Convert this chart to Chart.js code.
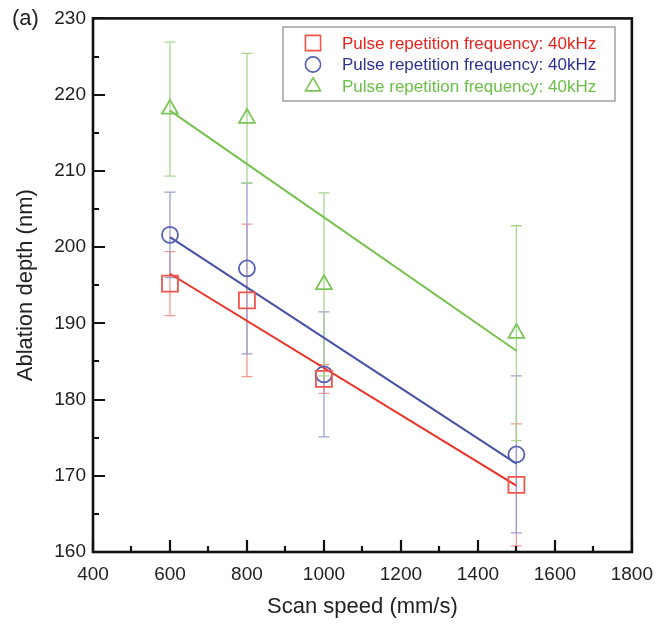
<!DOCTYPE html>
<html>
<head>
<meta charset="utf-8">
<script src="https://cdn.jsdelivr.net/npm/chart.js@4/dist/chart.umd.min.js"></script>
<style>
  html, body { margin: 0; padding: 0; background: #fff; }
  #wrap { width: 664px; height: 624px; position: relative; }
</style>
</head>
<body>
<div id="wrap"><canvas id="c" width="664" height="624"></canvas></div>
<script>
// ---- data ----
const scanSpeed = [600, 800, 1000, 1500];
const seriesLabels = [
  'Pulse repetition frequency: 40kHz',
  'Pulse repetition frequency: 40kHz',
  'Pulse repetition frequency: 40kHz'
];
const redDepth   = [195.2, 193.0, 182.7, 168.8];
const redErr     = [4.2, 10.0, 1.9, 8.0];
const blueDepth  = [201.6, 197.2, 183.3, 172.8];
const blueErr    = [5.6, 11.2, 8.2, 10.3];
const greenDepth = [218.1, 216.9, 195.1, 188.7];
const greenErr   = [8.8, 8.5, 12.0, 14.1];
// fitted line end points
const fitX     = [600, 1500];
const redFit   = [196.5, 168.7];
const blueFit  = [201.3, 171.6];
const greenFit = [217.9, 186.4];
// axes
const xMin = 400, xMax = 1800, xStep = 200;
const yMin = 160, yMax = 230, yStep = 10;

const FONT = '"Liberation Sans", Arial, sans-serif';

const colors = {
  red:   { line: '#ee2f24', mark: '#f0564a', err: '#f39a90', text: '#e8231d' },
  blue:  { line: '#4751a6', mark: '#5561b3', err: '#9aa0d2', text: '#2e3190' },
  green: { line: '#76c04e', mark: '#7cc558', err: '#a6d78e', text: '#6abf47' }
};

function pts(xs, ys) { return xs.map((x, i) => ({ x: x, y: ys[i] })); }

const seriesDefs = [
  { key: 'red',   depth: redDepth,   err: redErr,   fit: redFit,   style: 'rect',     radius: 11.3 },
  { key: 'blue',  depth: blueDepth,  err: blueErr,  fit: blueFit,  style: 'circle',   radius: 8 },
  { key: 'green', depth: greenDepth, err: greenErr, fit: greenFit, style: 'triangle', radius: 9.2 }
];

const datasets = [];
seriesDefs.forEach((s, i) => {
  datasets.push({
    label: seriesLabels[i] + ' fit',
    type: 'line',
    data: pts(fitX, s.fit),
    borderColor: colors[s.key].line,
    borderWidth: 2,
    pointRadius: 0,
    fill: false,
    order: 2
  });
});
seriesDefs.forEach((s, i) => {
  datasets.push({
    label: seriesLabels[i],
    type: 'scatter',
    data: pts(scanSpeed, s.depth),
    errors: s.err,
    pointStyle: s.style,
    pointRadius: s.radius,
    pointHoverRadius: s.radius,
    borderColor: colors[s.key].mark,
    backgroundColor: 'rgba(0,0,0,0)',
    pointBorderWidth: 1.8,
    order: 1,
    seriesKey: s.key
  });
});

const errorBarPlugin = {
  id: 'errorBars',
  beforeDatasetsDraw(chart) {
    const ctx = chart.ctx;
    const xs = chart.scales.x, ys = chart.scales.y;
    ctx.save();
    chart.data.datasets.forEach(ds => {
      if (!ds.errors) return;
      ctx.strokeStyle = colors[ds.seriesKey].err;
      ctx.lineWidth = 1.3;
      ds.data.forEach((p, i) => {
        const e = ds.errors[i];
        const px = xs.getPixelForValue(p.x);
        const top = ys.getPixelForValue(p.y + e);
        const bot = ys.getPixelForValue(p.y - e);
        ctx.beginPath();
        ctx.moveTo(px, top); ctx.lineTo(px, bot);
        ctx.moveTo(px - 5.5, top); ctx.lineTo(px + 5.5, top);
        ctx.moveTo(px - 5.5, bot); ctx.lineTo(px + 5.5, bot);
        ctx.stroke();
      });
    });
    ctx.restore();
  }
};

const framePlugin = {
  id: 'frame',
  afterDraw(chart) {
    const ctx = chart.ctx;
    const a = chart.chartArea;
    const xs = chart.scales.x, ys = chart.scales.y;
    ctx.save();
    ctx.strokeStyle = '#111';
    // ticks
    ctx.lineWidth = 2.2;
    ctx.beginPath();
    for (let v = xMin; v <= xMax; v += xStep / 2) {
      const px = Math.round(xs.getPixelForValue(v));
      const major = ((v - xMin) % xStep) === 0;
      ctx.moveTo(px, a.bottom);
      ctx.lineTo(px, a.bottom - (major ? 12 : 6));
    }
    for (let v = yMin; v <= yMax; v += yStep / 2) {
      const py = Math.round(ys.getPixelForValue(v));
      const major = ((v - yMin) % yStep) === 0;
      ctx.moveTo(a.left, py);
      ctx.lineTo(a.left + (major ? 12 : 6), py);
    }
    ctx.stroke();
    // frame
    ctx.lineWidth = 2.6;
    ctx.strokeRect(a.left, a.top, a.right - a.left, a.bottom - a.top);
    ctx.restore();

    // panel label
    ctx.save();
    ctx.fillStyle = '#222';
    ctx.font = '22px ' + FONT;
    ctx.textBaseline = 'middle';
    ctx.textAlign = 'left';
    ctx.fillText('(a)', 12, 19);
    ctx.restore();

    // legend
    ctx.save();
    const lx = 283, ly = 27, lw = 332, lh = 74;
    ctx.fillStyle = '#fff';
    ctx.fillRect(lx, ly, lw, lh);
    ctx.strokeStyle = '#8a8a8a';
    ctx.lineWidth = 1.2;
    ctx.strokeRect(lx, ly, lw, lh);
    const rows = [43, 64.5, 86.5];
    const markerDs = chart.data.datasets.filter(d => d.errors);
    markerDs.forEach((ds, i) => {
      const y = rows[i];
      const x = 313;
      ctx.strokeStyle = colors[ds.seriesKey].mark;
      ctx.fillStyle = 'rgba(0,0,0,0)';
      ctx.lineWidth = 1.6;
      Chart.helpers.drawPoint(ctx, {
        pointStyle: ds.pointStyle,
        radius: ds.pointRadius * 0.95,
        borderWidth: 1.6,
        rotation: 0
      }, x, y);
      ctx.fillStyle = colors[ds.seriesKey].text;
      ctx.font = '17px ' + FONT;
      ctx.textBaseline = 'middle';
      ctx.textAlign = 'left';
      ctx.fillText(ds.label, 342, y + 1);
    });
    ctx.restore();
  }
};

new Chart(document.getElementById('c'), {
  type: 'scatter',
  data: { datasets: datasets },
  plugins: [errorBarPlugin, framePlugin],
  options: {
    responsive: false,
    animation: false,
    events: [],
    layout: { padding: { left: 0, top: 15, right: 32, bottom: 0 } },
    plugins: { legend: { display: false }, tooltip: { enabled: false } },
    scales: {
      x: {
        type: 'linear', min: xMin, max: xMax,
        ticks: { stepSize: xStep, color: '#222', padding: 11,
                 callback: v => String(v),
                 font: { family: FONT, size: 19 } },
        grid: { display: false, drawTicks: false },
        border: { display: false },
        title: { display: true, text: 'Scan speed (mm/s)', color: '#222',
                 font: { family: FONT, size: 22 },
                 padding: { top: 4, bottom: 4 } },
        afterFit(scale) { scale.height = 72; }
      },
      y: {
        type: 'linear', min: yMin, max: yMax,
        ticks: { stepSize: yStep, color: '#222', padding: 7,
                 callback: v => String(v),
                 font: { family: FONT, size: 19 } },
        grid: { display: false, drawTicks: false },
        border: { display: false },
        title: { display: true, text: 'Ablation depth (nm)', color: '#222',
                 font: { family: FONT, size: 22 },
                 padding: { top: 13, bottom: 0 } },
        afterFit(scale) { scale.width = 93; }
      }
    }
  }
});
</script>
</body>
</html>
